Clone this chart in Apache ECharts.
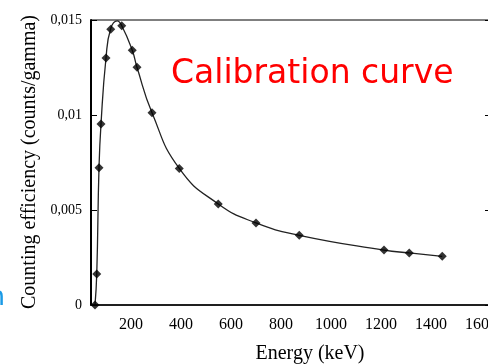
<!DOCTYPE html>
<html>
<head>
<meta charset="utf-8">
<script src="https://cdn.jsdelivr.net/npm/echarts@6/dist/echarts.min.js"></script>
<style>
    html, body { margin: 0; padding: 0; background: #fff; }
    #main { width: 488px; height: 364px; }
</style>
</head>
<body>
<div id="main"></div>
<script>
// measured points (keV, counts/gamma)
const energies = [56, 63, 72, 80, 100, 119, 163, 205, 224, 284, 393, 549, 700, 873, 1212, 1313, 1445];
const efficiency = [0.0000, 0.00163, 0.00723, 0.00953, 0.0130, 0.01451, 0.0147, 0.01341, 0.01251, 0.01012, 0.00719, 0.00532, 0.00432, 0.00367, 0.00289, 0.00274, 0.00256];

// fitted curve (peak sits above the points)
const curveE = [56, 63, 72, 80, 100, 119, 145, 163, 205, 224, 284, 393, 549, 700, 873, 1212, 1313, 1445];
const curveEff = [0.0000, 0.00163, 0.00723, 0.00953, 0.0130, 0.01455, 0.01495, 0.0147, 0.01341, 0.01251, 0.01012, 0.00719, 0.00532, 0.00432, 0.00367, 0.00289, 0.00274, 0.00256];

const xTicks = [200, 400, 600, 800, 1000, 1200, 1400, 1600];

const serif = 'Liberation Serif';

var myChart = echarts.init(document.getElementById('main'));

let commaFmt = (v)=>{
    return String(+v.toFixed(3)).replace('.', ',');
};

let option = {
    animation: false,
    backgroundColor: '#fff',
    grid: {
        left: 91,
        top: 20,
        width: 400,
        height: 285,
        outerBoundsMode: 'none', // plot runs past the right edge of the picture
        show: true,
        borderColor: '#000',
        borderWidth: 1
    },
    xAxis: {
        type: 'value',
        min: 40,
        max: 1640,
        axisLine: { lineStyle: { color: '#000', width: 1.5 } },
        axisTick: { show: false },
        splitLine: { show: false },
        axisLabel: {
            customValues: xTicks,
            margin: 12,
            fontFamily: serif,
            fontSize: 16,
            color: '#000',
            formatter: (v)=>String(v)
        }
    },
    yAxis: [{
        type: 'value',
        min: 0,
        max: 0.015,
        interval: 0.005,
        axisLine: { show: true, lineStyle: { color: '#000', width: 2 } },
        axisTick: { show: true, inside: true, length: 6, lineStyle: { color: '#000' } },
        splitLine: { show: false },
        axisLabel: {
            margin: 9,
            fontFamily: serif,
            fontSize: 14,
            color: '#000',
            formatter: commaFmt
        }
    }, {
        // right side frame, ticks only
        type: 'value',
        position: 'right',
        min: 0,
        max: 0.015,
        interval: 0.005,
        axisLine: { show: true, lineStyle: { color: '#000', width: 1 } },
        axisTick: { show: true, inside: true, length: 6, lineStyle: { color: '#000' } },
        splitLine: { show: false },
        axisLabel: { show: false }
    }],
    series: [{
        name: 'fit',
        type: 'line',
        data: curveE.map((e, i)=>[e, curveEff[i]]),
        smooth: 0.5,
        showSymbol: false,
        lineStyle: { color: '#222', width: 1.3 },
        z: 2
    }, {
        name: 'points',
        type: 'scatter',
        data: energies.map((e, i)=>[e, efficiency[i]]),
        symbol: 'diamond',
        symbolSize: 9,
        itemStyle: { color: '#000' },
        z: 3
    }],
    graphic: [{
        type: 'text',
        left: 171,
        top: 58,
        style: {
            text: 'Calibration curve',
            fill: '#ff0000',
            font: '33px "DejaVu Sans"'
        }
    }, {
        // x axis name
        type: 'text',
        x: 310,
        y: 354,
        style: {
            text: 'Energy (keV)',
            fill: '#000',
            font: '20px "Liberation Serif"',
            textAlign: 'center',
            textVerticalAlign: 'middle'
        }
    }, {
        // y axis name
        type: 'text',
        x: 30,
        y: 162,
        rotation: Math.PI / 2,
        style: {
            text: 'Counting efficiency (counts/gamma)',
            fill: '#000',
            font: '20px "Liberation Serif"',
            textAlign: 'center',
            textVerticalAlign: 'middle'
        }
    }, {
        // cut off word from the slide edge
        type: 'text',
        x: -12,
        y: 298,
        z: 10,
        style: {
            text: 'n',
            fill: '#1a9ae6',
            font: '27px "DejaVu Sans"',
            textVerticalAlign: 'middle'
        }
    }]
};

myChart.setOption(option);
</script>
</body>
</html>
